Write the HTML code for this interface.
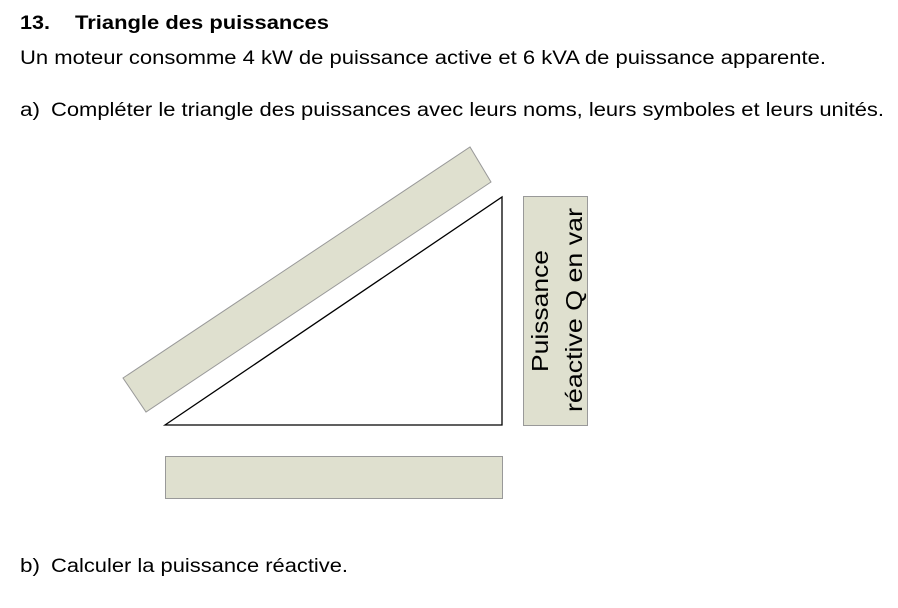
<!DOCTYPE html>
<html><head><style>
body{margin:0;width:898px;height:608px;background:#fff;position:relative;overflow:hidden}
</style></head><body>
<svg width="898" height="608" style="position:absolute;left:0;top:0" font-family="Liberation Sans, sans-serif" font-size="19">
<text x="20" y="29" font-weight="bold" textLength="30" lengthAdjust="spacingAndGlyphs">13.</text>
<text x="75" y="29" font-weight="bold" textLength="254" lengthAdjust="spacingAndGlyphs">Triangle des puissances</text>
<text x="20" y="64" textLength="806" lengthAdjust="spacingAndGlyphs">Un moteur consomme 4 kW de puissance active et 6 kVA de puissance apparente.</text>
<text x="20" y="116" textLength="20" lengthAdjust="spacingAndGlyphs">a)</text>
<text x="51" y="116" textLength="833" lengthAdjust="spacingAndGlyphs">Compléter le triangle des puissances avec leurs noms, leurs symboles et leurs unités.</text>
<text x="20" y="572" textLength="20" lengthAdjust="spacingAndGlyphs">b)</text>
<text x="51" y="572" textLength="297" lengthAdjust="spacingAndGlyphs">Calculer la puissance réactive.</text>
<polygon points="123,378 470,147 491,182 146,412" fill="#dfe0cf" stroke="#999" stroke-width="1"/>
<polygon points="165,425 502,197 502,425" fill="#fff" stroke="#000" stroke-width="1.3"/>
<rect x="523.5" y="196.5" width="64" height="229" fill="#dfe0cf" stroke="#999"/>
<rect x="165.5" y="456.5" width="337" height="42" fill="#dfe0cf" stroke="#999"/>
<text transform="translate(548,311) rotate(-90)" text-anchor="middle" font-size="23" textLength="122" lengthAdjust="spacingAndGlyphs">Puissance</text>
<text transform="translate(582,310) rotate(-90)" text-anchor="middle" font-size="23" textLength="204" lengthAdjust="spacingAndGlyphs">réactive Q en var</text>
</svg>
</body></html>
